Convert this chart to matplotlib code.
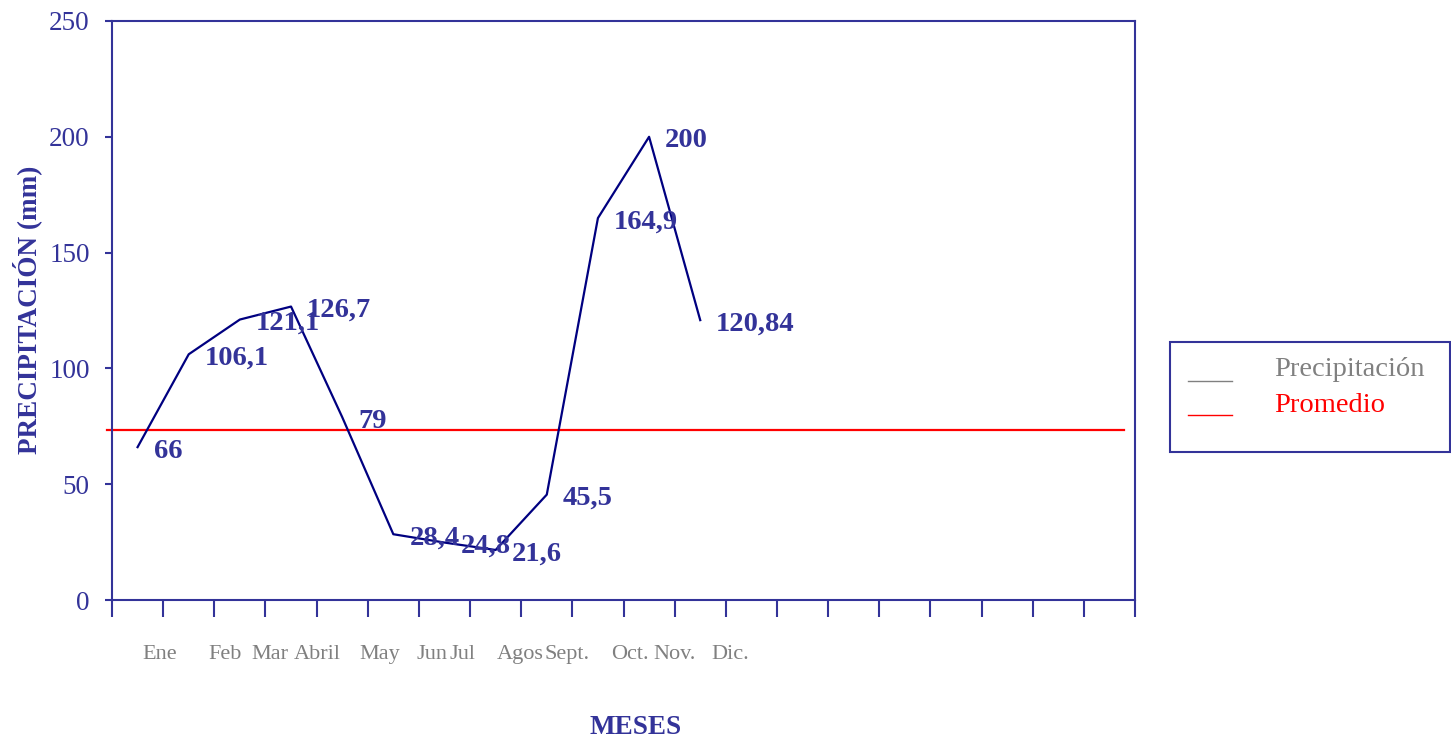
import matplotlib
matplotlib.use("Agg")
import matplotlib.pyplot as plt
from matplotlib.patches import Rectangle
from matplotlib.lines import Line2D

plt.rcParams['font.family'] = ['Liberation Serif', 'DejaVu Serif']

# ---- data ----
months = ["Ene", "Feb", "Mar", "Abril", "May", "Jun", "Jul", "Agos", "Sept.", "Oct.", "Nov.", "Dic."]
precip = [66, 106.1, 121.1, 126.7, 79, 28.4, 24.8, 21.6, 45.5, 164.9, 200, 120.84]
value_labels = ["66", "106,1", "121,1", "126,7", "79", "28,4", "24,8", "21,6", "45,5", "164,9", "200", "120,84"]
promedio = 73.5
n_slots = 20
# label positions (in category-slot units) as printed under the axis
month_label_pos = [0.94, 2.21, 3.09, 4.01, 5.24, 6.26, 6.86, 7.98, 8.9, 10.13, 11.0, 12.08]
yticks = [0, 50, 100, 150, 200, 250]

NAVY = "#333399"
LINE = "#000080"
GRAY = "#808080"

fig = plt.figure(figsize=(14.51, 7.42), dpi=100)
ax = fig.add_axes([112/1451, 142/742, 1023/1451, 579/742])

xs = [i + 0.5 for i in range(len(precip))]
ax.plot(xs, precip, color=LINE, lw=1.6, zorder=3)
ax.axhline(promedio, xmin=-5/1023, xmax=1012/1023, color="#FF0000", lw=1.6, clip_on=False, zorder=2)

for x, v, lab in zip(xs, precip, value_labels):
    ax.annotate(lab, (x, v), xytext=(16, -4), textcoords="offset pixels",
                ha="left", va="center", fontsize=20.5, fontweight="bold", color=NAVY, zorder=4)

ax.set_xlim(0, n_slots)
ax.set_ylim(0, 250)
ax.set_yticks(yticks)
ax.set_xticks(range(n_slots + 1))
ax.set_xticklabels([])
ax.tick_params(axis="y", direction="out", length=5, width=1.5, colors=NAVY, labelsize=19.5, pad=11)
ax.tick_params(axis="x", direction="out", length=12, width=1.5, colors=NAVY)
for s in ax.spines.values():
    s.set_color(NAVY)
    s.set_linewidth(1.5)

for pos, m in zip(month_label_pos, months):
    ax.text(pos, -23.7, m, ha="center", va="center", fontsize=16, color=GRAY, clip_on=False)

fig.text(27/1451, 1 - 310/742, "PRECIPITACIÓN (mm)", rotation=90, ha="center", va="center",
         fontsize=19.5, fontweight="bold", color=NAVY)
fig.text(636/1451, 1 - 728/742, "MESES", ha="center", va="center",
         fontsize=19.5, fontweight="bold", color=NAVY)

# legend box
fig.patches.append(Rectangle((1170/1451, (742-452)/742), 280/1451, 110/742,
                             transform=fig.transFigure, fill=False, edgecolor=NAVY, lw=1.5))
fig.lines.append(Line2D([1188/1451, 1232/1451], [1 - 381/742, 1 - 381/742],
                        transform=fig.transFigure, color=GRAY, lw=1.0))
fig.lines.append(Line2D([1188/1451, 1232/1451], [1 - 415/742, 1 - 415/742],
                        transform=fig.transFigure, color="#FF0000", lw=1.0))
fig.text(1274/1451, 1 - 370/742, "Precipitación", ha="left", va="center", fontsize=20.5, color=GRAY)
fig.text(1274/1451, 1 - 405/742, "Promedio", ha="left", va="center", fontsize=20.5, color="#FF0000")

fig.savefig("out.png", dpi=100)
